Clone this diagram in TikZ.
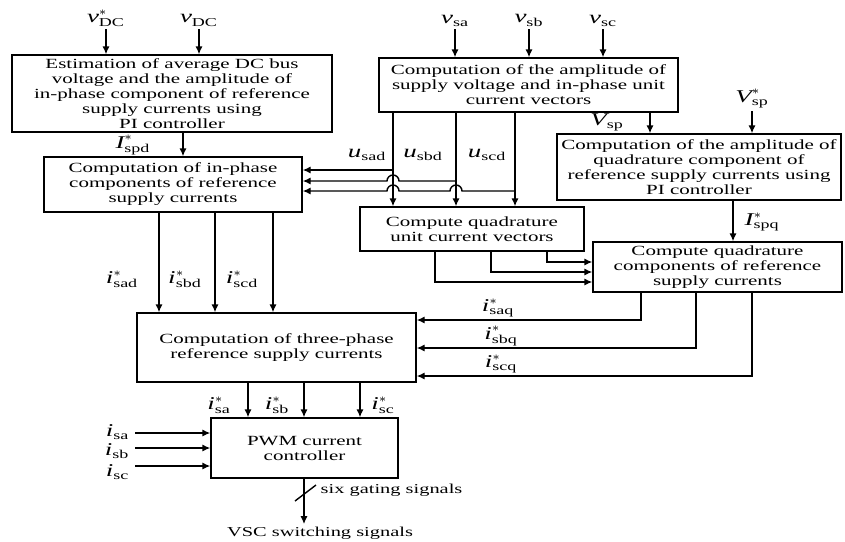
\documentclass[tikz,border=0pt]{standalone}
\usepackage{amsmath}
\usepackage{fontspec}
\setmainfont[FakeStretch=1.5]{Liberation Serif}
\usetikzlibrary{arrows.meta,positioning,calc}
\tikzstyle{block} = [draw, rectangle, align=center, inner sep=1pt,
    font=\fontsize{7}{7.5}\selectfont]
\tikzstyle{sig} = [inner sep=1pt, font=\fontsize{9}{10}\selectfont]
\tikzstyle{note} = [inner sep=1pt, font=\fontsize{6.8}{7.5}\selectfont]
\tikzstyle{coord} = [coordinate]
\tikzstyle{connector} = [->]
\newcommand{\sgl}[3]{$\textit{#1}^{#3}_{\text{#2}}$}

\begin{document}
\begin{tikzpicture}[x=0.5pt, y=-0.5pt, >={Latex[length=4pt,width=3.6pt]}, line width=0.7pt]
    \useasboundingbox (0,0) rectangle (845,541);

    % blocks
    \node (est) [block, minimum width=160pt, minimum height=38.5pt] at (172,93.5)
        {Estimation of average DC bus\\voltage and the amplitude of\\in-phase component of reference\\supply currents using\\PI controller};
    \node (inph) [block, minimum width=129pt, minimum height=27.5pt] at (173,184.5)
        {Computation of in-phase\\components of reference\\supply currents};
    \node (amp) [block, minimum width=149.5pt, minimum height=27pt] at (528.5,85)
        {Computation of the amplitude of\\supply voltage and in-phase unit\\current vectors};
    \node (quadvec) [block, minimum width=112pt, minimum height=22pt] at (472,229)
        {Compute quadrature\\unit current vectors};
    \node (quadamp) [block, minimum width=142pt, minimum height=33pt] at (699,167)
        {Computation of the amplitude of\\quadrature component of\\reference supply currents using\\PI controller};
    \node (quadcomp) [block, minimum width=124.5pt, minimum height=25pt] at (717.5,267)
        {Compute quadrature\\components of reference\\supply currents};
    \node (ref) [block, minimum width=139.5pt, minimum height=34.5pt] at (276.5,347.5)
        {Computation of three-phase\\reference supply currents};
    \node (pwm) [block, minimum width=93.5pt, minimum height=30pt] at (304.5,448)
        {PWM current\\controller};

    % inputs at the top
    \node (vdcref) [sig, anchor=south] at (106,29) {\sgl{v}{DC}{*}};
    \node (vdc) [sig, anchor=south] at (199,29) {\sgl{v}{DC}{}};
    \node (vsa) [sig, anchor=south] at (455,29) {\sgl{v}{sa}{}};
    \node (vsb) [sig, anchor=south] at (529,29) {\sgl{v}{sb}{}};
    \node (vsc) [sig, anchor=south] at (603,29) {\sgl{v}{sc}{}};
    \node (vspref) [sig, anchor=south] at (752,111) {\sgl{V}{sp}{*}};
    \draw [connector] (vdcref) -- (vdcref |- est.north);
    \draw [connector] (vdc) -- (vdc |- est.north);
    \draw [connector] (vsa) -- (vsa |- amp.north);
    \draw [connector] (vsb) -- (vsb |- amp.north);
    \draw [connector] (vsc) -- (vsc |- amp.north);
    \draw [connector] (vspref) -- (vspref |- quadamp.north);

    % amplitudes
    \coordinate (cspd) at (183,0);
    \coordinate (cvsp) at (650,0);
    \coordinate (cspq) at (733,0);
    \draw [connector] (cspd |- est.south) -- (cspd |- inph.north);
    \draw [connector] (cvsp |- amp.south) -- (cvsp |- quadamp.north);
    \draw [connector] (cspq |- quadamp.south) -- (cspq |- quadcomp.north);
    \node (ispd) [sig] at (133,145) {\sgl{I}{spd}{*}};
    \node (vsp) [sig] at (607,122) {\sgl{V}{sp}{}};
    \node (ispq) [sig] at (762,222) {\sgl{I}{spq}{*}};

    % in-phase unit vectors, with hops
    \coordinate (ua) at (393,0);
    \coordinate (ub) at (456,0);
    \coordinate (uc) at (515,0);
    \coordinate (ha) at (0,170);
    \coordinate (hb) at (0,181);
    \coordinate (hc) at (0,191);
    \draw [connector] (ua |- amp.south) -- (ua |- quadvec.north);
    \draw [connector] (ub |- amp.south) -- (ub |- quadvec.north);
    \draw [connector] (uc |- amp.south) -- (uc |- quadvec.north);
    \draw [connector] (ua |- ha) -- (ha -| inph.east);
    \draw [connector] (ub |- hb) -- ($(ua |- hb)+(6,0)$)
        arc [start angle=0, end angle=180, radius=3pt] -- (hb -| inph.east);
    \draw [connector] (uc |- hc) -- ($(ub |- hc)+(6,0)$)
        arc [start angle=0, end angle=180, radius=3pt] -- ($(ua |- hc)+(6,0)$)
        arc [start angle=0, end angle=180, radius=3pt] -- (hc -| inph.east);
    \node (usad) [sig] at (367,155) {\sgl{u}{sad}{}};
    \node (usbd) [sig] at (423,155) {\sgl{u}{sbd}{}};
    \node (uscd) [sig] at (487,155) {\sgl{u}{scd}{}};

    % quadrature unit vectors
    \coordinate (qa) at (547,262);
    \coordinate (qb) at (491,272);
    \coordinate (qc) at (435,282);
    \draw [connector] (qa |- quadvec.south) |- (qa -| quadcomp.west);
    \draw [connector] (qb |- quadvec.south) |- (qb -| quadcomp.west);
    \draw [connector] (qc |- quadvec.south) |- (qc -| quadcomp.west);

    % in-phase reference currents
    \coordinate (da) at (159,0);
    \coordinate (db) at (215,0);
    \coordinate (dc) at (273,0);
    \draw [connector] (da |- inph.south) -- (da |- ref.north);
    \draw [connector] (db |- inph.south) -- (db |- ref.north);
    \draw [connector] (dc |- inph.south) -- (dc |- ref.north);
    \node (isad) [sig] at (122,279) {\sgl{i}{sad}{*}};
    \node (isbd) [sig] at (185,279) {\sgl{i}{sbd}{*}};
    \node (iscd) [sig] at (242,279) {\sgl{i}{scd}{*}};

    % quadrature reference currents
    \coordinate (ra) at (641,320);
    \coordinate (rb) at (696,348);
    \coordinate (rc) at (752,376);
    \draw [connector] (ra |- quadcomp.south) |- (ra -| ref.east);
    \draw [connector] (rb |- quadcomp.south) |- (rb -| ref.east);
    \draw [connector] (rc |- quadcomp.south) |- (rc -| ref.east);
    \node (isaq) [sig] at (498,308) {\sgl{i}{saq}{*}};
    \node (isbq) [sig] at (501,336) {\sgl{i}{sbq}{*}};
    \node (iscq) [sig] at (501,364) {\sgl{i}{scq}{*}};

    % three-phase reference currents
    \coordinate (pa) at (248,0);
    \coordinate (pb) at (304,0);
    \coordinate (pc) at (360,0);
    \draw [connector] (pa |- ref.south) -- (pa |- pwm.north);
    \draw [connector] (pb |- ref.south) -- (pb |- pwm.north);
    \draw [connector] (pc |- ref.south) -- (pc |- pwm.north);
    \node (isaref) [sig] at (219,405) {\sgl{i}{sa}{*}};
    \node (isbref) [sig] at (277,405) {\sgl{i}{sb}{*}};
    \node (iscref) [sig] at (383,405) {\sgl{i}{sc}{*}};

    % sensed currents
    \coordinate (ia) at (135,433);
    \coordinate (ib) at (135,448);
    \coordinate (ic) at (135,466);
    \node (isa) [sig, inner sep=0pt, anchor=east] at (130,432) {\sgl{i}{sa}{}};
    \node (isb) [sig, inner sep=0pt, anchor=east] at (130,451) {\sgl{i}{sb}{}};
    \node (isc) [sig, inner sep=0pt, anchor=east] at (130,472) {\sgl{i}{sc}{}};
    \draw [connector] (ia) -- (ia -| pwm.west);
    \draw [connector] (ib) -- (ib -| pwm.west);
    \draw [connector] (ic) -- (ic -| pwm.west);

    % output
    \node (vscout) [note] at (320,533) {VSC switching signals};
    \draw [connector] (pb |- pwm.south) -- (pb |- vscout.north);
    \coordinate (tick) at (305,493);
    \draw (tick) ++(-10,8) -- ++(21,-16);
    \node (gating) [note, anchor=west] at (318,490) {six gating signals};
\end{tikzpicture}
\end{document}
